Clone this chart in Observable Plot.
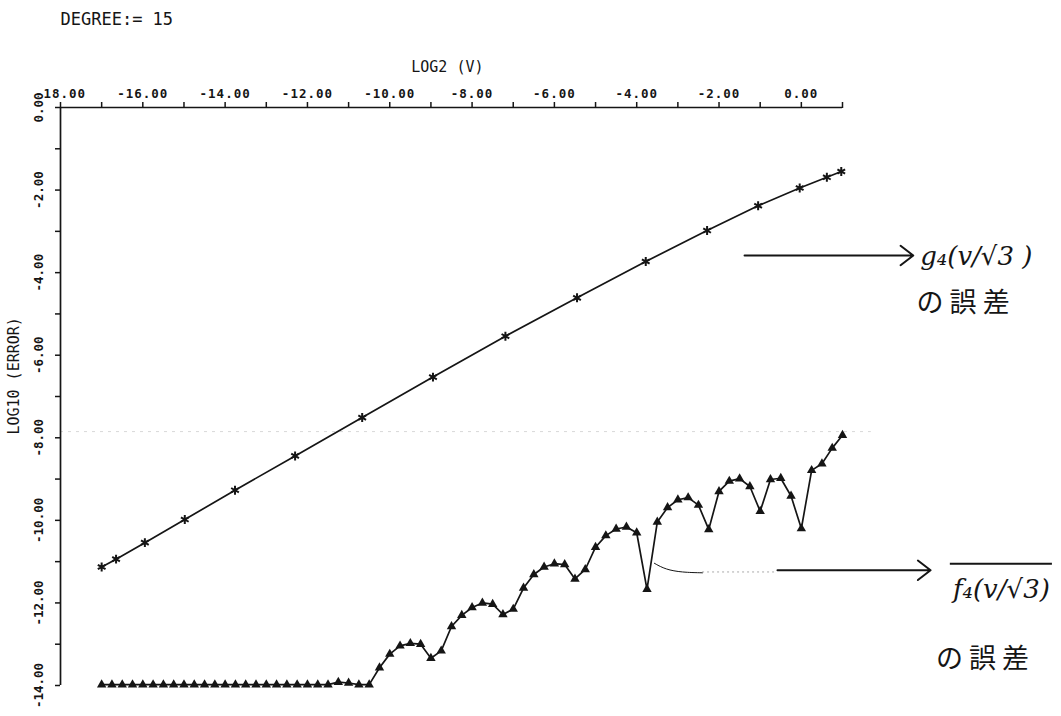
<!DOCTYPE html>
<html><head><meta charset="utf-8">
<script src="https://cdn.jsdelivr.net/npm/d3@7"></script>
<script src="https://cdn.jsdelivr.net/npm/@observablehq/plot@0.6"></script>
<style>
html,body{margin:0;padding:0;background:#fff;}
#chart{width:1061px;height:716px;}
g[aria-label="x-axis tick label"] text {letter-spacing:1px;}
</style></head><body><div id="chart"></div>
<script>
// ---- data ----
const degreeLabel = "DEGREE:= 15";
const xTitle = "LOG2 (V)";
const yTitle = "LOG10 (ERROR)";
const xTickVals = [-18,-17,-16,-15,-14,-13,-12,-11,-10,-9,-8,-7,-6,-5,-4,-3,-2,-1,0,1];
const xLabelVals = [-18,-16,-14,-12,-10,-8,-6,-4,-2,0];
const yTickVals = [0,-1,-2,-3,-4,-5,-6,-7,-8,-9,-10,-11,-12,-13,-14];
const yLabelVals = [0,-2,-4,-6,-8,-10,-12,-14];

// g4(v/sqrt3) error (asterisks)
const g4X = [-17.0,-16.65,-15.95,-14.98,-13.76,-12.30,-10.67,-8.95,-7.19,-5.45,-3.78,-2.29,-1.05,-0.04,0.62,0.97];
const g4Y = [-11.13,-10.94,-10.54,-9.98,-9.27,-8.44,-7.51,-6.53,-5.54,-4.61,-3.73,-2.98,-2.38,-1.95,-1.69,-1.55];

// f4(v/sqrt3) error (triangles)
const f4X = [-17,-16.75,-16.5,-16.25,-16,-15.75,-15.5,-15.25,-15,-14.75,-14.5,-14.25,-14,-13.75,-13.5,-13.25,-13,-12.75,-12.5,-12.25,-12,-11.75,-11.5,-11.25,-11,-10.75,-10.5,-10.25,-10,-9.75,-9.5,-9.25,-9,-8.75,-8.5,-8.25,-8,-7.75,-7.5,-7.25,-7,-6.75,-6.5,-6.25,-6,-5.75,-5.5,-5.25,-5,-4.75,-4.5,-4.25,-4,-3.75,-3.5,-3.25,-3,-2.75,-2.5,-2.25,-2,-1.75,-1.5,-1.25,-1,-0.75,-0.5,-0.25,0,0.25,0.5,0.75,1];
const f4Y = [-13.98,-13.98,-13.98,-13.98,-13.98,-13.98,-13.98,-13.98,-13.98,-13.98,-13.98,-13.98,-13.98,-13.98,-13.98,-13.98,-13.98,-13.98,-13.98,-13.98,-13.98,-13.98,-13.98,
  -13.92,-13.94,-13.98,-13.98,-13.57,-13.24,-13.04,-12.98,-13.00,-13.34,-13.16,-12.57,-12.30,-12.11,-12.00,-12.03,-12.28,-12.15,
  -11.64,-11.31,-11.13,-11.05,-11.07,-11.42,-11.19,-10.65,-10.37,-10.21,-10.16,-10.30,-11.67,-10.04,-9.69,-9.50,-9.45,-9.63,-10.22,
  -9.30,-9.05,-8.99,-9.18,-9.78,-9.01,-8.98,-9.41,-10.20,-8.79,-8.63,-8.25,-7.94];

// handwritten annotations
const annArrowX1 = [-1.38,-0.58];
const annArrowX2 = [2.72,3.14];
const annArrowY = [-3.585,-11.21];
const annLabelText = ["g\u2084(v/\u221A3 )","f\u2084(v/\u221A3)"];
const annLabelX = [4.25,4.86];
const annLabelY = [-3.62,-11.68];
const annNoteText = ["\u306E \u8AA4 \u5DEE","\u306E \u8AA4 \u5DEE"];
const annNoteX = [3.93,4.40];
const annNoteY = [-4.75,-13.36];
const overlineX = [3.62,6.10];
const overlineY = -11.05;
const pointerX = [-3.57,-3.30,-2.90,-2.40];
const pointerY = [-11.04,-11.19,-11.26,-11.27];
const faintX = [-2.40,-0.58];
const faintY = -11.25;
const scanRuleY = -7.85;

const g4 = g4X.map((x,i)=>({x, y:g4Y[i]}));
const f4 = f4X.map((x,i)=>({x, y:f4Y[i]}));
const arrows = annArrowX1.map((x1,i)=>({x1, x2:annArrowX2[i], y:annArrowY[i]}));
const labels = annLabelText.map((t,i)=>({t, x:annLabelX[i], y:annLabelY[i]}));
const notes = annNoteText.map((t,i)=>({t, x:annNoteX[i], y:annNoteY[i]}));
const pointer = pointerX.map((x,i)=>({x, y:pointerY[i]}));
const fmt = d => d.toFixed(2);
const ink = "#151515";
const mono = "'DejaVu Sans Mono', monospace";

const plot = Plot.plot({
  width: 1061, height: 716,
  marginLeft: 60, marginRight: 219, marginTop: 107, marginBottom: 31,
  x: {domain: [-18, 1]},
  y: {domain: [-14, 0]},
  style: {background: "#fff", fontFamily: mono, color: ink, overflow: "visible"},
  marks: [
    Plot.ruleY([scanRuleY], {x1: -18, x2: 1.7, stroke: "#d8d8d8", strokeWidth: 1, strokeDasharray: "3,5"}),
    Plot.ruleY([0], {x1: -18, x2: 1, stroke: ink, strokeWidth: 1.7}),
    Plot.ruleX([-18], {y1: -14, y2: 0, stroke: ink, strokeWidth: 1.7}),
    Plot.axisX({anchor: "top", ticks: xTickVals, tickSize: 6, tickPadding: 4, strokeWidth: 1.5,
      tickFormat: d => xLabelVals.includes(d) ? fmt(d) : "", label: null, fontSize: 12.5, fontWeight: "bold", fontFamily: mono}),
    Plot.axisY({anchor: "left", ticks: yTickVals, tickSize: 5, strokeWidth: 1.5, tickFormat: () => "", label: null}),
    Plot.text(yLabelVals, {x: -18, y: d => d, text: fmt, rotate: -90, dx: -22, fontSize: 12.5, fontWeight: "bold", fontFamily: mono, fill: ink}),
    Plot.text([xTitle], {x: -8.6, y: 0, dy: -40, text: d => d, fontSize: 15, fontFamily: mono, fill: ink}),
    Plot.text([yTitle], {x: -18, y: -6.5, dx: -46, rotate: -90, text: d => d, fontSize: 15, fontFamily: mono, fill: ink}),
    Plot.text([degreeLabel], {x: -18, y: 0, dy: -88, textAnchor: "start", text: d => d, fontSize: 17, fontFamily: mono, fill: ink}),
    // series
    Plot.line(g4, {x: "x", y: "y", stroke: ink, strokeWidth: 1.7}),
    Plot.dot(g4, {x: "x", y: "y", symbol: "asterisk", r: 4.2, stroke: ink, strokeWidth: 2}),
    Plot.line(f4, {x: "x", y: "y", stroke: ink, strokeWidth: 1.7}),
    Plot.dot(f4, {x: "x", y: "y", symbol: "triangle", r: 3.5, fill: ink, stroke: "none"}),
    // annotations
    Plot.line(pointer, {x: "x", y: "y", curve: "basis", stroke: ink, strokeWidth: 1}),
    Plot.ruleY([faintY], {x1: faintX[0], x2: faintX[1], stroke: "#aaa", strokeWidth: 1, strokeDasharray: "2,3"}),
    Plot.arrow(arrows, {x1: "x1", x2: "x2", y1: "y", y2: "y", bend: 0, headLength: 12, headAngle: 75, stroke: ink, strokeWidth: 2}),
    Plot.ruleY([overlineY], {x1: overlineX[0], x2: overlineX[1], stroke: ink, strokeWidth: 2}),
    Plot.text(labels, {x: "x", y: "y", text: "t", fontSize: 26, fontFamily: "'DejaVu Serif', serif", fontStyle: "italic", fill: ink}),
    Plot.text(notes, {x: "x", y: "y", text: "t", fontSize: 27, fontFamily: "'Noto Sans CJK JP', sans-serif", fill: ink})
  ]
});
document.getElementById("chart").appendChild(plot);
</script></body></html>
